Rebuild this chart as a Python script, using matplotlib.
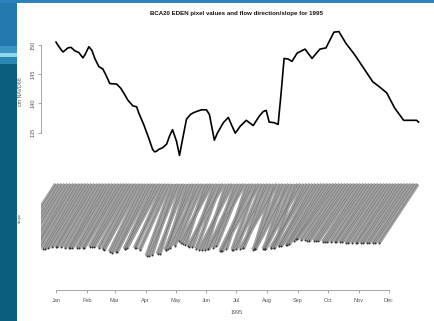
import numpy as np
import pandas as pd
import matplotlib
matplotlib.use('Agg')
import matplotlib.pyplot as plt
import matplotlib.dates as mdates
from matplotlib.collections import LineCollection
from matplotlib.patches import Rectangle

plt.rcParams['font.family'] = ['Liberation Sans', 'DejaVu Sans']

# water level at the pixel (cm NAVD88)
stage_dates = ['1995-01-01', '1995-01-04', '1995-01-08', '1995-01-13', '1995-01-16', '1995-01-20',
               '1995-01-24', '1995-01-28', '1995-01-30', '1995-02-03', '1995-02-06', '1995-02-09',
               '1995-02-13', '1995-02-17', '1995-02-20', '1995-02-24', '1995-03-03', '1995-03-07',
               '1995-03-11', '1995-03-14', '1995-03-19', '1995-03-23', '1995-03-25', '1995-03-30',
               '1995-04-04', '1995-04-08', '1995-04-10', '1995-04-12', '1995-04-14', '1995-04-18',
               '1995-04-22', '1995-04-25', '1995-04-28', '1995-05-02', '1995-05-05', '1995-05-08',
               '1995-05-12', '1995-05-16', '1995-05-19', '1995-05-22', '1995-05-27', '1995-06-01',
               '1995-06-04', '1995-06-09', '1995-06-12', '1995-06-18', '1995-06-23', '1995-06-26',
               '1995-06-30', '1995-07-05', '1995-07-11', '1995-07-18', '1995-07-24', '1995-07-28',
               '1995-07-31', '1995-08-03', '1995-08-08', '1995-08-12', '1995-08-15', '1995-08-18',
               '1995-08-22', '1995-08-26', '1995-08-31', '1995-09-08', '1995-09-15', '1995-09-23',
               '1995-09-29', '1995-10-07', '1995-10-12', '1995-10-19', '1995-10-28', '1995-11-06',
               '1995-11-15', '1995-11-22', '1995-11-29', '1995-12-07', '1995-12-16', '1995-12-29',
               '1995-12-31']
stage_cm = [150.5, 149.7, 148.8, 149.5, 149.6, 149.0, 148.7, 147.8, 148.3,
            149.7, 149.1, 147.7, 146.3, 145.9, 144.9, 143.4,
            143.3, 142.6, 141.5, 140.6, 139.6, 139.4, 138.4, 136.4,
            134.1, 132.1, 131.7, 131.8, 132.1, 132.4, 133.0, 134.4, 135.5,
            133.5, 131.1, 133.8, 137.3, 138.1, 138.4, 138.6, 138.9,
            138.9, 138.1, 133.7, 134.9, 136.7, 137.6, 136.4, 134.9,
            136.1, 137.1, 136.2, 137.8, 138.6, 138.8,
            136.8, 136.7, 136.4, 141.8, 147.7, 147.6, 147.2, 148.6,
            149.3, 147.7, 149.3, 149.5,
            152.2, 152.3, 150.3, 148.3,
            146.0, 143.7, 142.8, 141.8,
            139.2, 137.1, 137.1, 136.8]

# flow direction / slope vectors, one every 3 days from Jan 1
arrow_start = '1995-01-01'
arrow_step = '3D'
arrow_dx = [38, 37, 38, 39, 37, 36, 38, 38, 37, 38,
            38, 37, 36, 38, 37, 36, 35, 37, 38, 36,
            37, 36, 38, 35, 36, 37, 35, 34, 36, 33,
            34, 33, 35, 30, 33, 34, 28, 32, 30, 26,
            24, 30, 22, 27, 20, 25, 28, 22, 30, 24,
            20, 26, 31, 22, 28, 24, 35, 21, 27, 33,
            22, 30, 25, 36, 21, 28, 33, 24, 38, 26,
            22, 35, 28, 20, 37, 25, 30, 22, 34, 27,
            21, 33, 38, 30, 36, 39, 34, 37, 38, 36,
            38, 39, 37, 38, 40, 39, 38, 39, 40, 38,
            39, 40, 38, 39, 40, 39, 38, 40, 39, 40,
            39, 40, 39, 38, 40, 39, 40, 39, 40, 39, 40, 39]
arrow_drop = [59, 61, 62, 63, 64, 64, 64, 65, 65, 65,
              64, 63, 63, 63, 63, 64, 64, 64, 64, 64,
              64, 64, 64, 63, 63, 63, 64, 65, 66, 68,
              69, 68, 68, 65, 65, 64, 64, 64, 66, 72,
              71, 72, 70, 70, 65, 66, 66, 62, 64, 57,
              61, 60, 59, 63, 63, 65, 62, 66, 66, 66,
              64, 65, 62, 65, 65, 67, 67, 66, 67, 65,
              64, 66, 64, 65, 65, 65, 66, 65, 65, 65,
              64, 65, 65, 64, 64, 64, 62, 62, 62, 61,
              61, 60, 57, 55, 55, 56, 56, 57, 57, 57,
              57, 57, 58, 58, 58, 58, 58, 58, 58, 58,
              59, 59, 59, 59, 59, 59, 59, 59, 59, 59, 59, 59]

month_labels = ['Jan', 'Feb', 'Mar', 'Apr', 'May', 'Jun',
                'Jul', 'Aug', 'Sep', 'Oct', 'Nov', 'Dec']
stage_ticks = [135, 140, 145, 150]

fig = plt.figure(figsize=(4.34, 3.21), dpi=100)

sd = mdates.date2num(pd.to_datetime(stage_dates))
pad = (sd[-1] - sd[0]) * 0.04
xlim = (sd[0] - pad, sd[-1] + pad)

# top panel: water level
ax1 = fig.add_axes([0.0956, 0.5006, 0.9023, 0.4165])
ax1.plot(sd, stage_cm, color='black', lw=1.2)
ax1.set_xlim(xlim)
ax1.set_ylim(130.25, 153.15)
for s in ['top', 'right', 'bottom']:
    ax1.spines[s].set_visible(False)
ax1.spines['left'].set_bounds(135, 150)
ax1.spines['left'].set_color('#999999')
ax1.spines['left'].set_linewidth(0.6)
ax1.set_xticks([])
ax1.set_yticks(stage_ticks)
ax1.set_yticklabels([str(t) for t in stage_ticks], rotation=90, va='center')
ax1.tick_params(axis='y', length=2.5, width=0.6, color='#999999', labelsize=4, labelcolor='#555555', pad=2)
ax1.patch.set_alpha(0)

# bottom panel: flow direction / slope
ax2 = fig.add_axes([0.0956, 0.0966, 0.9023, 0.3489])
ad = mdates.date2num(pd.date_range(arrow_start, periods=len(arrow_dx), freq=arrow_step))
tails = [(x - dx, -dr) for x, dx, dr in zip(ad, arrow_dx, arrow_drop)]
segs = [[t, (x, 0)] for t, x in zip(tails, ad)]
ax2.add_collection(LineCollection(segs, colors='#a0a0a0', linewidths=3.0, capstyle='butt'))
ax2.add_collection(LineCollection(segs, colors='#6a6a6a', linewidths=0.3))
tx, ty = zip(*tails)
ax2.plot(tx, ty, ls='none', marker='o', ms=1.4, mew=0, color='#333333')
ax2.set_xlim(xlim)
ax2.set_ylim(-106, 6)
for s in ['top', 'right', 'left']:
    ax2.spines[s].set_visible(False)
month_pos = mdates.date2num(pd.date_range('1995-01-01', periods=12, freq='MS'))
ax2.spines['bottom'].set_bounds(month_pos[0], month_pos[-1])
ax2.spines['bottom'].set_color('#999999')
ax2.spines['bottom'].set_linewidth(0.6)
ax2.set_yticks([])
ax2.set_xticks(month_pos)
ax2.set_xticklabels(month_labels)
ax2.tick_params(axis='x', length=2.5, width=0.6, color='#999999', labelsize=4, labelcolor='#555555', pad=3)
ax2.patch.set_alpha(0)

fig.text(237 / 434, 1 - 312 / 321, '1995', ha='center', va='center', fontsize=4, color='#555555')
fig.text(21 / 434, 1 - 92 / 321, 'cm NAVD88', rotation=90, ha='center', va='center', fontsize=3.8, color='#555555')
fig.text(20 / 434, 1 - 218 / 321, 'slope', rotation=90, ha='center', va='center', fontsize=3.2, color='#555555')
fig.text(236 / 434, 1 - 14 / 321, 'BCA20 EDEN pixel values and flow direction/slope for 1995',
         ha='center', va='center', fontsize=4.4, fontweight='bold', color='#111111')

# slide background: blue strip on the left and thin band along the top
def strip(y0, y1, color, x0=0, x1=17):
    fig.patches.append(Rectangle((x0 / 434, 1 - y1 / 321), (x1 - x0) / 434, (y1 - y0) / 321,
                                 transform=fig.transFigure, color=color, zorder=10, lw=0))

strip(0, 321, '#0b5e7d')
strip(0, 46, '#2479ad')
strip(46, 53, '#3d93c4')
strip(53, 57, '#8fd6e8')
strip(57, 64, '#2a86b5')
strip(0, 2.5, '#2b82b8', 0, 434)

fig.savefig('out.png', dpi=100)
